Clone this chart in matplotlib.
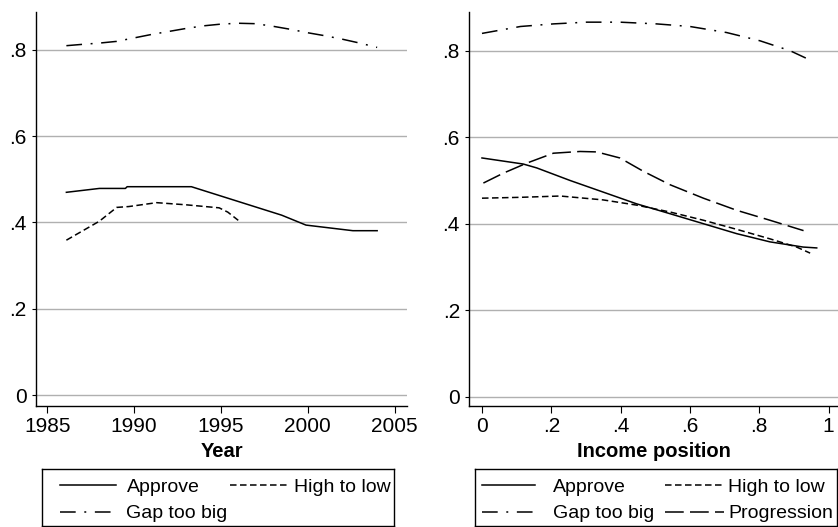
import matplotlib
matplotlib.use("Agg")
import matplotlib.pyplot as plt
from matplotlib.lines import Line2D

plt.rcParams['font.family'] = ['Liberation Sans', 'DejaVu Sans']
plt.rcParams['lines.scale_dashes'] = False

# ---------------- data: left panel (by year) ----------------
gap_year_x = [1986.1, 1987, 1988, 1989, 1990, 1991, 1992, 1993, 1994, 1995, 1996,
              1997, 1998, 1999, 2000, 2001, 2002, 2003, 2004]
gap_year_y = [0.810, 0.813, 0.816, 0.820, 0.828, 0.836, 0.843, 0.850, 0.856, 0.860, 0.862,
              0.861, 0.855, 0.848, 0.840, 0.833, 0.825, 0.816, 0.806]

approve_year_x = [1986.1, 1988.0, 1989.5, 1989.6, 1993.3, 1998.5, 1999.9, 2002.6, 2004.0]
approve_year_y = [0.470, 0.479, 0.479, 0.483, 0.483, 0.417, 0.394, 0.381, 0.381]

high_year_x = [1986.1, 1988.0, 1989.0, 1989.7, 1991.3, 1993.0, 1994.9, 1995.4, 1996.0]
high_year_y = [0.359, 0.403, 0.435, 0.437, 0.446, 0.441, 0.434, 0.424, 0.405]

year_ticks = [1985, 1990, 1995, 2000, 2005]

# ---------------- data: right panel (by income position) ----------------
gap_inc_x = [0.0, 0.111, 0.206, 0.302, 0.398, 0.504, 0.600, 0.706, 0.802, 0.889, 0.956]
gap_inc_y = [0.840, 0.856, 0.862, 0.866, 0.866, 0.862, 0.856, 0.842, 0.823, 0.800, 0.775]

approve_inc_x = [0.0, 0.119, 0.158, 0.254, 0.350, 0.446, 0.543, 0.639, 0.735, 0.831, 0.927, 0.966]
approve_inc_y = [0.552, 0.538, 0.529, 0.500, 0.473, 0.446, 0.423, 0.400, 0.377, 0.358, 0.346, 0.344]

high_inc_x = [0.0, 0.111, 0.226, 0.350, 0.446, 0.543, 0.639, 0.735, 0.831, 0.908, 0.947]
high_inc_y = [0.459, 0.461, 0.464, 0.455, 0.443, 0.427, 0.408, 0.387, 0.365, 0.346, 0.332]

prog_inc_x = [0.004, 0.062, 0.129, 0.206, 0.283, 0.331, 0.398, 0.466, 0.543, 0.639, 0.735, 0.831, 0.928]
prog_inc_y = [0.494, 0.517, 0.540, 0.563, 0.567, 0.566, 0.552, 0.521, 0.490, 0.459, 0.431, 0.408, 0.384]

inc_ticks = [0, 0.2, 0.4, 0.6, 0.8, 1.0]
inc_labels = ["0", ".2", ".4", ".6", ".8", "1"]
y_ticks = [0, 0.2, 0.4, 0.6, 0.8]
y_labels = ["0", ".2", ".4", ".6", ".8"]

# ---------------- styles ----------------
LW = 1.1
solid = dict(color='black', lw=LW, linestyle='-')
short_dash = dict(color='black', lw=LW, linestyle=(0, (4.7, 2.5)))
dash_dot = dict(color='black', lw=LW, linestyle=(0, (11.3, 6.2, 1.4, 6.2)))
long_dash = dict(color='black', lw=LW, linestyle=(0, (13.5, 4.5)))

W, H = 838, 527
fig = plt.figure(figsize=(W / 100, H / 100), dpi=100)


def px_axes(x0, y0, x1, y1):
    return fig.add_axes([x0 / W, (H - y1) / H, (x1 - x0) / W, (y1 - y0) / H])


def style_axes(ax):
    for s in ['top', 'right']:
        ax.spines[s].set_visible(False)
    for s in ['left', 'bottom']:
        ax.spines[s].set_linewidth(1.0)
        ax.spines[s].set_color('black')
    ax.set_yticks(y_ticks)
    ax.set_yticklabels(y_labels)
    ax.yaxis.grid(True, color='#b0b0b0', lw=1.0)
    ax.set_axisbelow(True)
    ax.tick_params(axis='x', direction='out', length=5.2, width=0.8, pad=3, labelsize=15)
    ax.tick_params(axis='y', direction='out', length=3.2, width=0.8, pad=3.5, labelsize=15)


# left panel
axL = px_axes(36, 12, 407, 406)
axL.plot(approve_year_x, approve_year_y, **solid)
axL.plot(high_year_x, high_year_y, **short_dash)
axL.plot(gap_year_x, gap_year_y, **dash_dot)
axL.set_xlim(1984.35, 2005.72)
axL.set_ylim(-0.0255, 0.8881)
axL.set_xticks(year_ticks)
style_axes(axL)
axL.set_xlabel("Year", fontsize=14.5, fontweight='bold', labelpad=4)

# right panel
axR = px_axes(469.3, 12, 838, 406)
axR.plot(approve_inc_x, approve_inc_y, **solid)
axR.plot(high_inc_x, high_inc_y, **short_dash)
axR.plot(gap_inc_x, gap_inc_y, **dash_dot)
axR.plot(prog_inc_x, prog_inc_y, **long_dash)
axR.set_xlim(-0.0366, 1.0274)
axR.set_ylim(-0.0215, 0.8895)
axR.set_xticks(inc_ticks)
axR.set_xticklabels(inc_labels)
style_axes(axR)
axR.set_xlabel("Income position", fontsize=14.5, fontweight='bold', labelpad=4)


# legends drawn in pixel coordinates
def legend_box(x0, x1, y0, y1, entries):
    lg = px_axes(x0, y0, x1, y1)
    lg.set_xlim(x0, x1)
    lg.set_ylim(y1, y0)
    lg.set_xticks([])
    lg.set_yticks([])
    for s in lg.spines.values():
        s.set_linewidth(1.0)
        s.set_color('black')
    for (kx0, kx1, ky, tx, label, style) in entries:
        lg.add_line(Line2D([kx0, kx1], [ky, ky], **style))
        lg.text(tx, ky + 6.3, label, fontsize=14, va='baseline', ha='left')
    return lg


r1, r2 = 485.3, 511.5
legend_box(42, 394.3, 469.3, 525.5, [
    (59.7, 116.3, r1, 127.3, "Approve", solid),
    (230, 290, r1, 294, "High to low", short_dash),
    (59.7, 116.3, r2, 126.0, "Gap too big", dash_dot),
])
legend_box(475, 836.5, 469.3, 525.5, [
    (481.7, 535, r1, 553.3, "Approve", solid),
    (665, 723.5, r1, 728.3, "High to low", short_dash),
    (481.7, 535, r2, 552.7, "Gap too big", dash_dot),
    (665, 723.5, r2, 728.3, "Progression", long_dash),
])

fig.savefig("out.png", dpi=100)
